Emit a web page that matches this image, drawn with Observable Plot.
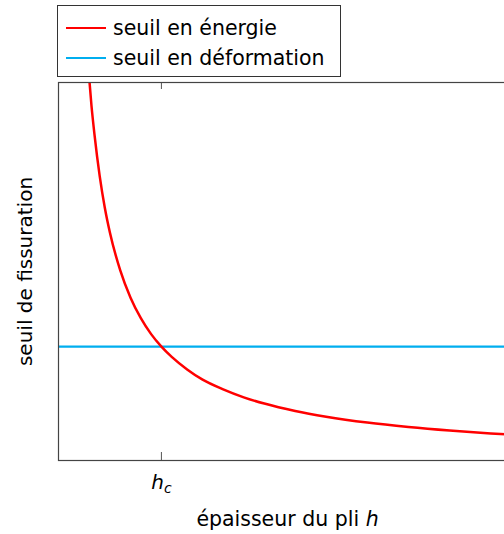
<!DOCTYPE html>
<html>
<head>
<meta charset="utf-8">
<script src="https://cdn.jsdelivr.net/npm/d3@7"></script>
<script src="https://cdn.jsdelivr.net/npm/@observablehq/plot@0.6"></script>
<style>
  html, body { margin: 0; padding: 0; overflow: hidden; background: #fff; }
  body { font-family: "DejaVu Sans", sans-serif; width: 516px; }
  #legend { margin: 5px 0 0 57px; width: 282px; height: 70px; border: 1px solid #333; box-sizing: content-box; font-size: 20.5px; color: #000; }
  .row { display: flex; align-items: center; height: 30px; }
  .row:first-child { margin-top: 7px; }
  .sw { width: 40px; height: 2.4px; margin: 0 7px 0 8px; }
  svg { display: block; }
</style>
</head>
<body>
<div id="legend"></div>
<div id="chart"></div>
<script>
// Series names and colours
const seriesNames = ["seuil en énergie", "seuil en déformation"];
const seriesColors = ["#ff0000", "#00aeef"];

// Energy threshold curve (h in units of h_c, threshold in units of the strain threshold)
const hEnergy = [0.29, 0.32, 0.35, 0.4, 0.45, 0.5, 0.6, 0.7, 0.8, 0.9, 1.0, 1.1, 1.25, 1.4, 1.6, 1.8, 2.0, 2.3, 2.6, 3.0, 3.4, 3.8, 4.2, 4.45];
const vEnergy = [3.45, 3.12, 2.86, 2.5, 2.22, 2.0, 1.67, 1.43, 1.25, 1.11, 1.0, 0.91, 0.80, 0.71, 0.625, 0.555, 0.50, 0.435, 0.385, 0.333, 0.294, 0.263, 0.238, 0.225];

// Strain threshold (constant)
const strainThreshold = 1.0;

// Critical thickness tick
const hcValue = 1.0;
const hcLabel = "hc";

const xLabel = "épaisseur du pli h";
const yLabel = "seuil de fissuration";
const xDomain = [0, 4.45];
const yDomain = [0, 3.32];

// Legend
const legend = document.getElementById("legend");
seriesNames.forEach((name, i) => {
  const row = document.createElement("div");
  row.className = "row";
  const sw = document.createElement("div");
  sw.className = "sw";
  sw.style.background = seriesColors[i];
  const t = document.createElement("span");
  t.textContent = name;
  row.appendChild(sw); row.appendChild(t);
  legend.appendChild(row);
});

const energy = hEnergy.map((h, i) => ({h, v: vEnergy[i]}));

const chart = Plot.plot({
  width: 516,
  height: 456,
  marginLeft: 58,
  marginRight: 0,
  marginTop: 5,
  marginBottom: 73,
  style: {fontFamily: "DejaVu Sans, sans-serif", fontSize: "20px", color: "#000", background: "#fff"},
  x: {domain: xDomain, axis: null},
  y: {domain: yDomain, axis: null},
  marks: [
    Plot.ruleY([strainThreshold], {stroke: seriesColors[1], strokeWidth: 2.4}),
    Plot.line(energy, {x: "h", y: "v", stroke: seriesColors[0], strokeWidth: 2.5, curve: "monotone-x", clip: true}),
    Plot.ruleX([hcValue], {insetTop: 370, stroke: "#555", strokeWidth: 1}),
    Plot.ruleX([hcValue], {insetBottom: 371, stroke: "#555", strokeWidth: 1}),
    Plot.frame({stroke: "#444", strokeWidth: 1.2}),
    Plot.text([hcLabel], {x: () => hcValue, frameAnchor: "bottom", lineAnchor: "middle", dy: 22, text: d => d, fontSize: 20}),
    Plot.text([xLabel], {frameAnchor: "bottom", lineAnchor: "middle", dy: 59, text: d => d, fontSize: 20.5}),
    Plot.text([yLabel], {frameAnchor: "left", textAnchor: "middle", lineAnchor: "middle", dx: -33, rotate: -90, text: d => d, fontSize: 20})
  ]
});
document.getElementById("chart").appendChild(chart);

// Math formatting: italic h, subscript c
d3.select(chart).selectAll("text").each(function() {
  const el = d3.select(this);
  const s = el.text();
  if (s === hcLabel) {
    el.text("");
    el.append("tspan").attr("font-style", "italic").text("h");
    el.append("tspan").attr("font-style", "italic").attr("font-size", "14px").attr("dy", "0.3em").text("c");
  } else if (s === xLabel) {
    el.text("");
    el.append("tspan").text(xLabel.slice(0, -1));
    el.append("tspan").attr("font-style", "italic").text(xLabel.slice(-1));
  }
});
</script>
</body>
</html>
